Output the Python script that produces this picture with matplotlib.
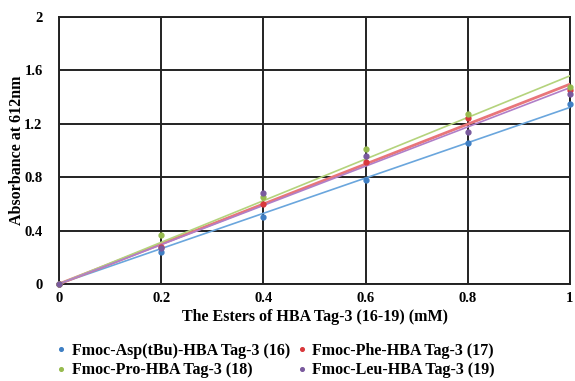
import numpy as np
import matplotlib
matplotlib.use("Agg")
import matplotlib.pyplot as plt

plt.rcParams['font.family'] = ['Liberation Serif', 'DejaVu Serif']
plt.rcParams['font.weight'] = 'bold'

conc = [0, 0.2, 0.4, 0.6, 0.8, 1.0]
asp = [0, 0.24, 0.50, 0.78, 1.055, 1.35]
phe = [0, 0.28, 0.60, 0.91, 1.245, 1.455]
pro = [0, 0.37, 0.65, 1.01, 1.27, 1.475]
leu = [0, 0.27, 0.685, 0.96, 1.14, 1.42]

names = ["Fmoc-Asp(tBu)-HBA Tag-3 (16)", "Fmoc-Phe-HBA Tag-3 (17)",
         "Fmoc-Pro-HBA Tag-3 (18)", "Fmoc-Leu-HBA Tag-3 (19)"]
series = [asp, phe, pro, leu]
dot_colors = ["#3f7fc4", "#d9383c", "#97bb4e", "#7a5a9e"]
line_colors = ["#6aa6dd", "#e8767a", "#b4d37c", "#b07fc8"]
line_widths = [1.2, 2.0, 1.2, 1.2]

fig = plt.figure(figsize=(5.75, 3.81), dpi=100)
ax = fig.add_axes([0.103, 0.255, 0.888, 0.700])

x = np.array(conc)
xs = np.linspace(0, 1, 50)
handles = []
for ys, name, dc, lc, lw in zip(series, names, dot_colors, line_colors, line_widths):
    y = np.array(ys)
    slope = (x * y).sum() / (x * x).sum()  # trendline through origin
    ax.plot(xs, slope * xs, color=lc, lw=lw, zorder=3)
    h, = ax.plot(x, y, 'o', color=dc, ms=3.5, label=name, zorder=4, clip_on=False)
    handles.append(h)

ax.set_xlim(0, 1)
ax.set_ylim(0, 2)
ax.set_xticks([0, 0.2, 0.4, 0.6, 0.8, 1])
ax.set_xticklabels(["0", "0.2", "0.4", "0.6", "0.8", "1"])
ax.set_yticks([0, 0.4, 0.8, 1.2, 1.6, 2])
ax.set_yticklabels(["0", "0.4", "0.8", "1.2", "1.6", "2"])
ax.grid(True, color="#222222", lw=1.4)
ax.set_axisbelow(True)
for s in ax.spines.values():
    s.set_color("#222222")
    s.set_linewidth(1.4)
ax.tick_params(length=0, labelsize=10.5)
ax.tick_params(axis='x', pad=6)
ax.tick_params(axis='y', pad=12)

ax.set_xlabel("The Esters of HBA Tag-3 (16-19) (mM)", fontsize=11.5, fontweight='bold', labelpad=3)
ax.set_ylabel("Absorbance at 612nm", fontsize=11.5, fontweight='bold')
ax.yaxis.set_label_coords(-0.068, 0.5)

# row-wise order: Asp, Phe / Pro, Leu
order = [0, 2, 1, 3]
fig.legend([handles[i] for i in order], [names[i] for i in order],
           loc='upper left', bbox_to_anchor=(0.098, 0.100), ncol=2, frameon=False,
           fontsize=11.5, handlelength=0.6, handletextpad=0.35, columnspacing=0.45,
           labelspacing=0.22, markerscale=0.75, borderpad=0, borderaxespad=0)

fig.savefig("out.png", dpi=100)
